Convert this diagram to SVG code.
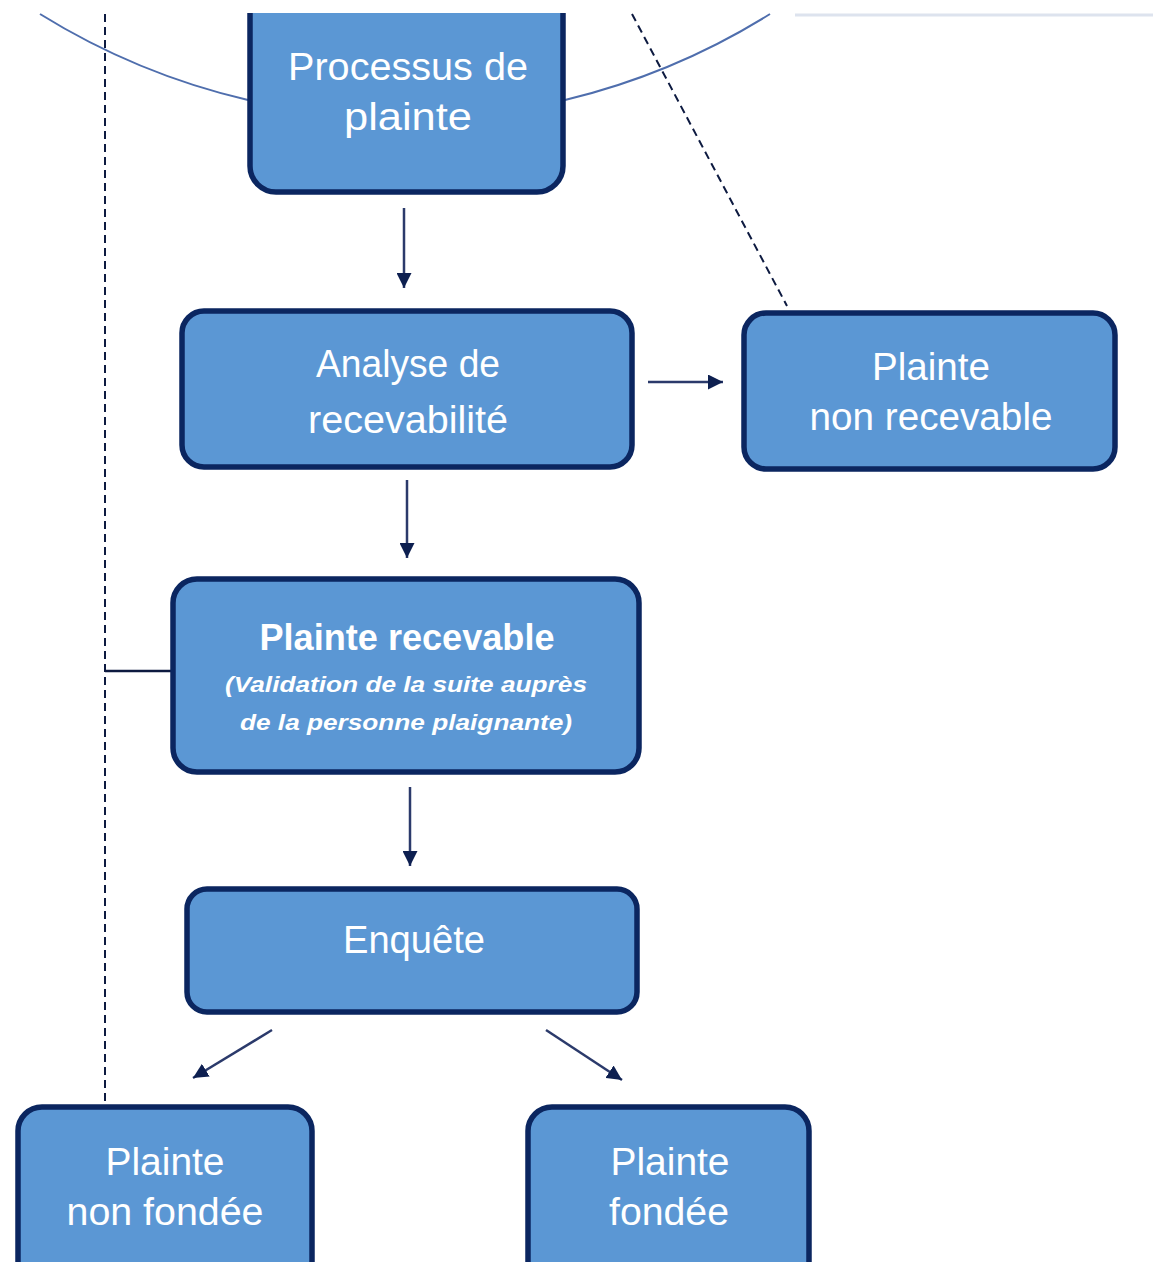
<svg xmlns="http://www.w3.org/2000/svg" width="1153" height="1262" viewBox="0 0 1153 1262">
<style>
.box{fill:#5b97d4;stroke:#0b2660;stroke-width:5.5}
.t{font-family:"Liberation Sans",Arial,sans-serif;font-size:38px;fill:#ffffff;text-anchor:middle}
.tb{font-family:"Liberation Sans",Arial,sans-serif;font-size:36px;font-weight:bold;fill:#ffffff;text-anchor:middle}
.ti{font-family:"Liberation Sans",Arial,sans-serif;font-size:22px;font-weight:bold;font-style:italic;fill:#ffffff;text-anchor:middle}
.arr{stroke:#2b3a6b;stroke-width:2.5;fill:none;marker-end:url(#ah)}
.dash{stroke:#0d1a40;stroke-width:2;fill:none;stroke-dasharray:8 5}
.arc{stroke:#4f6ead;stroke-width:2;fill:none}
</style>
<defs>
<marker id="ah" viewBox="0 0 10 10" refX="10" refY="5" markerWidth="6" markerHeight="6" orient="auto" markerUnits="strokeWidth">
<path d="M0,0 L10,5 L0,10 z" fill="#0d1f50"/>
</marker>
</defs>
<rect x="0" y="0" width="1153" height="1262" fill="#ffffff"/>
<g id="background-lines">
<path class="arc" d="M40,14 A692,692 0 0 0 248,100"/>
<path class="arc" d="M565,100 A692,692 0 0 0 770,14"/>
<line x1="795" y1="15" x2="1153" y2="15" stroke="#dde3ee" stroke-width="3"/>
</g>
<g id="connectors">
<line class="dash" x1="105" y1="14" x2="105" y2="1105"/>
<line x1="105" y1="671" x2="172" y2="671" stroke="#0d1a40" stroke-width="2.5"/>
<line class="dash" x1="632" y1="14" x2="787" y2="306"/>
<line class="arr" x1="404" y1="208" x2="404" y2="288"/>
<line class="arr" x1="407" y1="480" x2="407" y2="558"/>
<line class="arr" x1="648" y1="382" x2="723" y2="382"/>
<line class="arr" x1="410" y1="787" x2="410" y2="866"/>
<line class="arr" x1="272" y1="1030" x2="193" y2="1078"/>
<line class="arr" x1="546" y1="1030" x2="622" y2="1080"/>
</g>
<g id="n-processus">
<rect class="box" x="250" y="-40" width="313" height="232" rx="26"/>
<text class="t" x="408" y="80" textLength="240" lengthAdjust="spacingAndGlyphs">Processus de</text>
<text class="t" x="408" y="130" textLength="128" lengthAdjust="spacingAndGlyphs">plainte</text>
</g>
<g id="n-analyse">
<rect class="box" x="182" y="311" width="450" height="156" rx="22"/>
<text class="t" x="408" y="377" textLength="184" lengthAdjust="spacingAndGlyphs">Analyse de</text>
<text class="t" x="408" y="433" textLength="200" lengthAdjust="spacingAndGlyphs">recevabilité</text>
</g>
<g id="n-non-recevable">
<rect class="box" x="744" y="313" width="371" height="156" rx="22"/>
<text class="t" x="931" y="380" textLength="118" lengthAdjust="spacingAndGlyphs">Plainte</text>
<text class="t" x="931" y="430" textLength="243" lengthAdjust="spacingAndGlyphs">non recevable</text>
</g>
<g id="n-recevable">
<rect class="box" x="173" y="579" width="466" height="193" rx="24"/>
<text class="tb" x="407" y="650" textLength="295" lengthAdjust="spacingAndGlyphs">Plainte recevable</text>
<text class="ti" x="406" y="692" textLength="362" lengthAdjust="spacingAndGlyphs">(Validation de la suite auprès</text>
<text class="ti" x="406" y="730" textLength="332" lengthAdjust="spacingAndGlyphs">de la personne plaignante)</text>
</g>
<g id="n-enquete">
<rect class="box" x="187" y="889" width="450" height="123" rx="20"/>
<text class="t" x="414" y="953" textLength="142" lengthAdjust="spacingAndGlyphs">Enquête</text>
</g>
<g id="n-non-fondee">
<rect class="box" x="18" y="1107" width="294" height="180" rx="24"/>
<text class="t" x="165" y="1175" textLength="119" lengthAdjust="spacingAndGlyphs">Plainte</text>
<text class="t" x="165" y="1225" textLength="197" lengthAdjust="spacingAndGlyphs">non fondée</text>
</g>
<g id="n-fondee">
<rect class="box" x="528" y="1107" width="281" height="180" rx="24"/>
<text class="t" x="670" y="1175" textLength="119" lengthAdjust="spacingAndGlyphs">Plainte</text>
<text class="t" x="669" y="1225" textLength="120" lengthAdjust="spacingAndGlyphs">fondée</text>
</g>
<rect x="0" y="0" width="1153" height="13" fill="#ffffff"/>
</svg>
